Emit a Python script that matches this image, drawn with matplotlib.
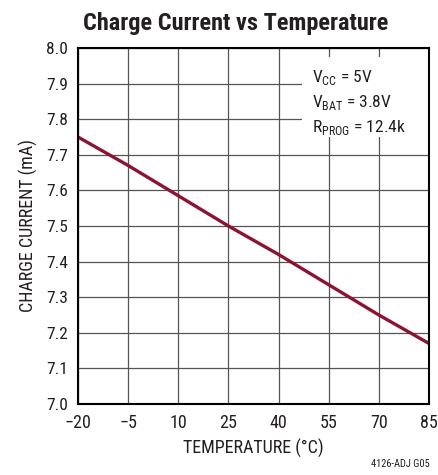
import numpy as np
import matplotlib
matplotlib.use('Agg')
import matplotlib.pyplot as plt
from matplotlib import font_manager
from matplotlib.patches import Rectangle

# narrow sans like the datasheet font, fall back if missing
installed = {f.name for f in font_manager.fontManager.ttflist}
narrow = next((n for n in ['Nimbus Sans Narrow', 'Liberation Sans Narrow', 'Roboto Condensed',
                           'Archivo Narrow', 'Barlow Semi Condensed'] if n in installed), 'DejaVu Sans')
plt.rcParams['font.family'] = [narrow, 'DejaVu Sans']
plt.rcParams['mathtext.fontset'] = 'custom'
plt.rcParams['mathtext.rm'] = narrow
plt.rcParams['text.color'] = '#231f20'
plt.rcParams['axes.labelcolor'] = '#231f20'
plt.rcParams['xtick.color'] = '#231f20'
plt.rcParams['ytick.color'] = '#231f20'

# data
temperature = [-20, -5, 10, 25, 40, 55, 70, 85]
charge_current = [7.75, 7.67, 7.585, 7.50, 7.42, 7.335, 7.25, 7.17]
x_ticks = [-20, -5, 10, 25, 40, 55, 70, 85]
x_tick_labels = ['\u221220', '\u22125', '10', '25', '40', '55', '70', '85']
y_ticks = [7.0, 7.1, 7.2, 7.3, 7.4, 7.5, 7.6, 7.7, 7.8, 7.9, 8.0]
conditions = ['V$_{\\mathregular{CC}}$ = 5V',
              'V$_{\\mathregular{BAT}}$ = 3.8V',
              'R$_{\\mathregular{PROG}}$ = 12.4k']

fig = plt.figure(figsize=(4.39, 4.75), dpi=100)
ax = fig.add_axes([78 / 439, 1 - 404 / 475, 351 / 439, 356 / 475])

ax.plot(temperature, charge_current, color='#8e1232', linewidth=2.4, zorder=3)

ax.set_xlim(-20, 85)
ax.set_ylim(7.0, 8.0)
ax.set_xticks(x_ticks)
ax.set_xticklabels(x_tick_labels)
ax.set_yticks(y_ticks)
ax.set_yticklabels([f'{v:.1f}' for v in y_ticks])
ax.tick_params(length=0)
ax.tick_params(axis='x', labelsize=13, pad=7)
ax.tick_params(axis='y', labelsize=12.5, pad=7)
ax.grid(True, color='#555555', linewidth=0.9)
for s in ax.spines.values():
    s.set_linewidth(1.5)
    s.set_zorder(5)

ax.set_xlabel('TEMPERATURE (\u00b0C)', fontsize=13, labelpad=5)
ax.set_ylabel('CHARGE CURRENT (mA)', fontsize=13, labelpad=6)
fig.text(236 / 439, 1 - 30 / 475, 'Charge Current vs Temperature', fontsize=17.5,
         fontweight='bold', ha='center', va='baseline')

# conditions box, blanks the grid behind it
ax.add_patch(Rectangle((0.638, 0.75), 0.36, 0.225, transform=ax.transAxes,
                       facecolor='white', edgecolor='none', zorder=4))
for i, line in enumerate(conditions):
    ax.text(0.667, 0.904 - i * 0.07, line, transform=ax.transAxes, ha='left',
            va='baseline', fontsize=12.5, zorder=6)

fig.text(430 / 439, 1 - 467 / 475, '4126-ADJ G05', ha='right', va='baseline', fontsize=7.5)

fig.savefig('out.png', dpi=100)
